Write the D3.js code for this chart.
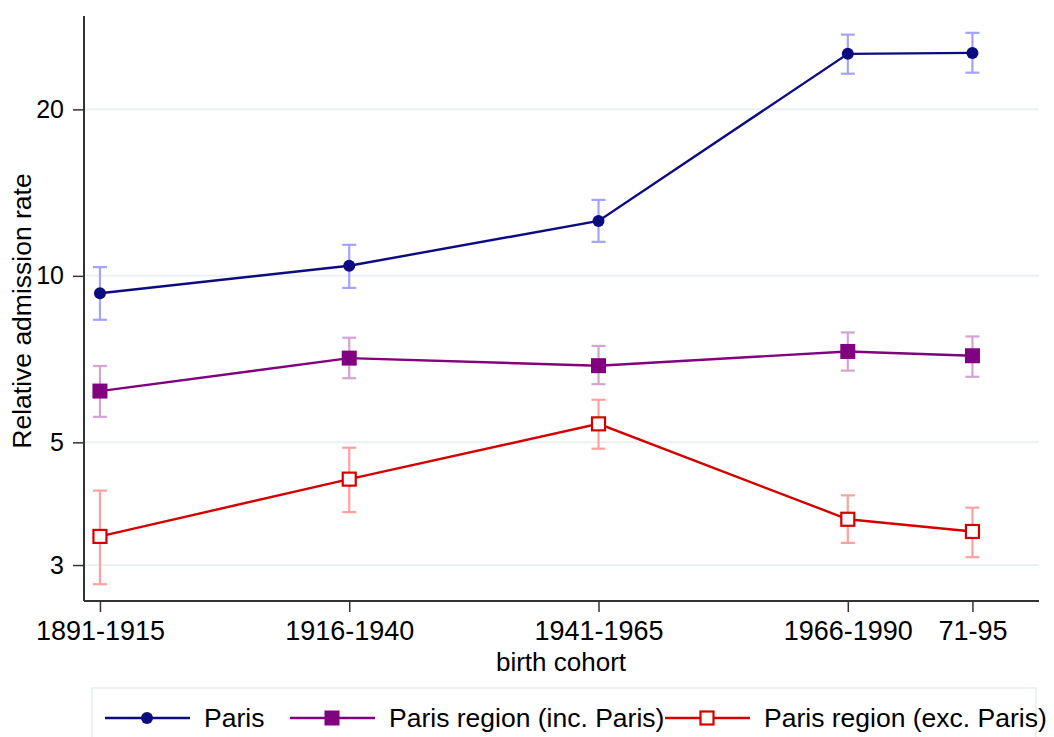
<!DOCTYPE html>
<html>
<head>
<meta charset="utf-8">
<script src="https://cdn.jsdelivr.net/npm/d3@7"></script>
<style>
  body { margin: 0; background: #fff; }
  svg { font-family: "Liberation Sans", Arial, sans-serif; }
</style>
</head>
<body>
<svg id="chart" width="1054" height="737"></svg>
<script>
// cohort positions (last cohort sits half way)
var cohortX = [1, 2, 3, 4, 4.5];
var cohortLabels = ["1891-1915", "1916-1940", "1941-1965", "1966-1990", "71-95"];
var yTicks = [3, 5, 10, 20];

var parisVal = [9.30, 10.43, 12.57, 25.2, 25.3];
var parisLo  = [8.33, 9.51, 11.52, 23.2, 23.3];
var parisHi  = [10.37, 11.38, 13.72, 27.3, 27.5];

var incVal = [6.19, 7.10, 6.88, 7.30, 7.17];
var incLo  = [5.56, 6.53, 6.37, 6.74, 6.57];
var incHi  = [6.87, 7.73, 7.47, 7.90, 7.77];

var excVal = [3.38, 4.29, 5.40, 3.63, 3.45];
var excLo  = [2.77, 3.74, 4.87, 3.29, 3.10];
var excHi  = [4.09, 4.89, 5.97, 4.01, 3.81];

var seriesNames = ["Paris", "Paris region (inc. Paris)", "Paris region (exc. Paris)"];

var series = [
  { name: seriesNames[0], val: parisVal, lo: parisLo, hi: parisHi, color: "#0c0c80", ci: "#a3a3fb", marker: "circle" },
  { name: seriesNames[1], val: incVal, lo: incLo, hi: incHi, color: "#800080", ci: "#d3a3d3", marker: "square" },
  { name: seriesNames[2], val: excVal, lo: excLo, hi: excHi, color: "#d40000", ci: "#ffa0a0", marker: "hollow" }
];

var svg = d3.select("#chart");
var plotLeft = 84, plotRight = 1039, plotTop = 16, plotBottom = 601;

var x = d3.scaleLinear().domain([0.936, 4.767]).range([plotLeft, plotRight]);
var y = d3.scaleLog().domain([2.583, 29.5]).range([plotBottom, plotTop]);

// gridlines
svg.append("g").selectAll("line").data(yTicks).enter().append("line")
  .attr("x1", plotLeft).attr("x2", plotRight)
  .attr("y1", function(d) { return y(d); }).attr("y2", function(d) { return y(d); })
  .attr("stroke", "#eaf1f3").attr("stroke-width", 2);

// y axis
var yAxis = svg.append("g").attr("transform", "translate(" + plotLeft + ",0)")
  .call(d3.axisLeft(y).tickValues(yTicks).tickFormat(d3.format("d")).tickSize(11).tickPadding(9));
yAxis.select(".domain").attr("d", "M0," + plotTop + "V" + plotBottom);
yAxis.selectAll(".tick text").style("font-size", "25px");

// x axis
var xAxis = svg.append("g").attr("transform", "translate(0," + plotBottom + ")")
  .call(d3.axisBottom(x).tickValues(cohortX).tickFormat(function(d, i) { return cohortLabels[i]; }).tickSize(11).tickPadding(9));
xAxis.select(".domain").attr("d", "M" + plotLeft + ",0H" + plotRight);
xAxis.selectAll(".tick text").style("font-size", "27px");

svg.selectAll(".domain").attr("stroke", "#333").attr("stroke-width", 2);
svg.selectAll(".tick line").attr("stroke", "#333").attr("stroke-width", 1.5);
svg.selectAll(".tick text").attr("fill", "#000");

svg.append("text").attr("x", 561).attr("y", 671)
  .attr("text-anchor", "middle").style("font-size", "26px").text("birth cohort");
svg.append("text").attr("transform", "translate(31,311) rotate(-90)")
  .attr("text-anchor", "middle").style("font-size", "26.5px").text("Relative admission rate");

function drawMarker(g, type, color, cx, cy) {
  if (type === "circle") {
    g.append("circle").attr("cx", cx).attr("cy", cy).attr("r", 6).attr("fill", color);
  } else if (type === "square") {
    g.append("rect").attr("x", cx - 7.5).attr("y", cy - 7.5).attr("width", 15).attr("height", 15).attr("fill", color);
  } else {
    g.append("rect").attr("x", cx - 6.5).attr("y", cy - 6.5).attr("width", 13).attr("height", 13)
      .attr("fill", "#fff").attr("stroke", color).attr("stroke-width", 2.2);
  }
}

var line = d3.line().x(function(d) { return x(d[0]); }).y(function(d) { return y(d[1]); });

series.forEach(function(s) {
  var g = svg.append("g");
  // error bars
  cohortX.forEach(function(cx, i) {
    var px = x(cx);
    g.append("line").attr("x1", px).attr("x2", px).attr("y1", y(s.lo[i])).attr("y2", y(s.hi[i]))
      .attr("stroke", s.ci).attr("stroke-width", 2.2);
    [s.lo[i], s.hi[i]].forEach(function(v) {
      g.append("line").attr("x1", px - 7).attr("x2", px + 7).attr("y1", y(v)).attr("y2", y(v))
        .attr("stroke", s.ci).attr("stroke-width", 2.2);
    });
  });
  g.append("path").datum(cohortX.map(function(cx, i) { return [cx, s.val[i]]; }))
    .attr("d", line).attr("fill", "none").attr("stroke", s.color).attr("stroke-width", 2.4);
  cohortX.forEach(function(cx, i) {
    drawMarker(g, s.marker, s.color, x(cx), y(s.val[i]));
  });
});

// legend
svg.append("rect").attr("x", 92).attr("y", 688).attr("width", 944).attr("height", 70)
  .attr("fill", "#fff").attr("stroke", "#e6eef0").attr("stroke-width", 1.5);
var legX = [105, 290, 665];
series.forEach(function(s, i) {
  var g = svg.append("g");
  var lx = legX[i], ly = 718;
  g.append("line").attr("x1", lx).attr("x2", lx + 85).attr("y1", ly).attr("y2", ly)
    .attr("stroke", s.color).attr("stroke-width", 2.4);
  drawMarker(g, s.marker, s.color, lx + 42, ly);
  g.append("text").attr("x", lx + 99).attr("y", ly + 9).style("font-size", "26.5px").text(s.name);
});
</script>
</body>
</html>
